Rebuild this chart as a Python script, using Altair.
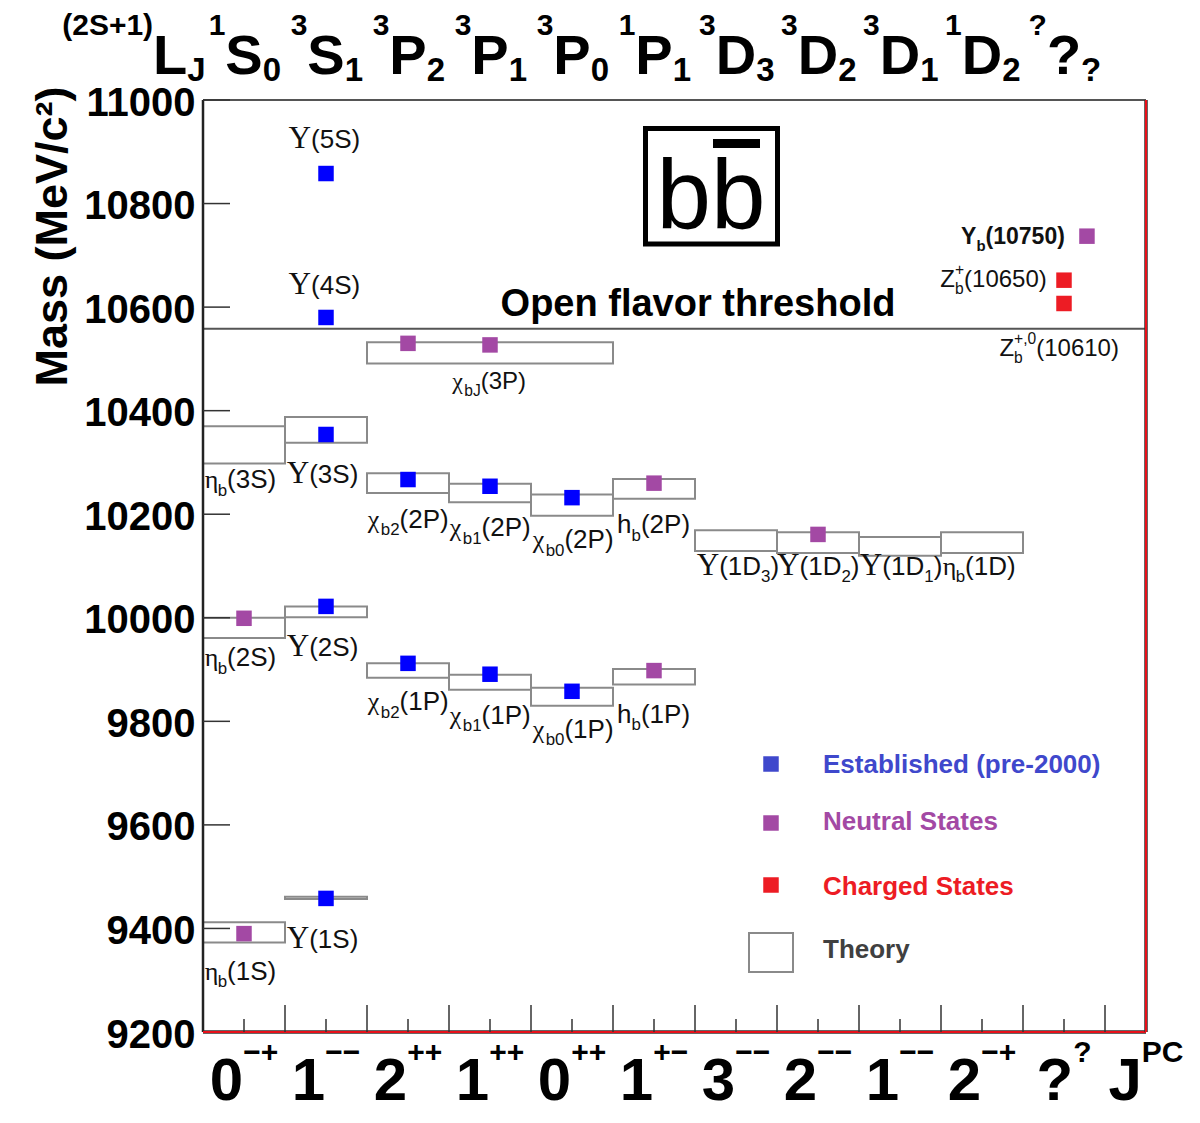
import altair as alt
import pandas as pd

# ---------------- data ----------------
# experimental states (x = JPC column centre, mass in MeV)
state_name = ["Υ(1S)", "Υ(2S)", "Υ(3S)", "Υ(4S)", "Υ(5S)",
              "ηb(1S)", "ηb(2S)",
              "χb2(1P)", "χb1(1P)", "χb0(1P)", "hb(1P)",
              "χb2(2P)", "χb1(2P)", "χb0(2P)", "hb(2P)",
              "χb2(3P)", "χb1(3P)", "Υ(1D2)",
              "Yb(10750)", "Zb(10650)", "Zb(10610)"]
state_x = [1.5, 1.5, 1.5, 1.5, 1.5,
           0.5, 0.5,
           2.5, 3.5, 4.5, 5.5,
           2.5, 3.5, 4.5, 5.5,
           2.5, 3.5, 7.5,
           10.78, 10.5, 10.5]
state_mass = [9458, 10022, 10354, 10580, 10858,
              9390, 9999,
              9912, 9891, 9858, 9898,
              10267, 10254, 10232, 10260,
              10530, 10527, 10161,
              10737, 10652, 10607]
state_kind = (["established"] * 5 + ["neutral"] * 2 + ["established"] * 3 + ["neutral"]
              + ["established"] * 3 + ["neutral"] + ["neutral"] * 3 + ["neutral"] + ["charged"] * 2)

# theory predictions (boxes)
theory_name = ["ηb(1S)", "Υ(1S)", "ηb(2S)", "Υ(2S)", "ηb(3S)", "Υ(3S)", "χbJ(3P)",
               "χb2(1P)", "χb1(1P)", "χb0(1P)", "hb(1P)",
               "χb2(2P)", "χb1(2P)", "χb0(2P)", "hb(2P)",
               "Υ(1D3)", "Υ(1D2)", "Υ(1D1)", "ηb(1D)"]
theory_x0 = [0, 1, 0, 1, 0, 1, 2, 2, 3, 4, 5, 2, 3, 4, 5, 6, 7, 8, 9]
theory_x1 = [1, 2, 1, 2, 1, 2, 5, 3, 4, 5, 6, 3, 4, 5, 6, 7, 8, 9, 10]
theory_lo = [9373, 9457, 9961, 10001, 10298, 10338, 10491,
             9884, 9861, 9830, 9871, 10241, 10223, 10197, 10230,
             10129, 10125, 10120, 10125]
theory_hi = [9412, 9461, 10000, 10022, 10370, 10388, 10532,
             9912, 9890, 9865, 9901, 10279, 10259, 10238, 10268,
             10169, 10165, 10156, 10165]

threshold_mass = [10558]

# particle labels (markup: _{..} subscript, ^{..} superscript)
label_text = ["Υ(5S)", "Υ(4S)", "Υ(3S)", "Υ(2S)", "Υ(1S)",
              "η_{b}(3S)", "η_{b}(2S)", "η_{b}(1S)",
              "χ_{b2}(2P)", "χ_{b1}(2P)", "χ_{b0}(2P)", "h_{b}(2P)",
              "χ_{b2}(1P)", "χ_{b1}(1P)", "χ_{b0}(1P)", "h_{b}(1P)",
              "χ_{bJ}(3P)",
              "Υ(1D_{3})", "Υ(1D_{2})", "Υ(1D_{1})", "η_{b}(1D)",
              "Y_{b}(10750)", "Z^{+}_{b}(10650)", "Z^{+,0}_{b}(10610)"]
label_x = [1.48, 1.48, 1.02, 1.02, 1.02,
           0.02, 0.02, 0.02,
           2.01, 3.01, 4.02, 5.05,
           2.01, 3.01, 4.02, 5.05,
           3.49,
           6.02, 7.0, 8.01, 9.02,
           10.51, 10.29, 11.17]
label_mass = [10908, 10625, 10261, 9926, 9363,
              10250, 9906, 9301,
              10174, 10157, 10134, 10163,
              9821, 9795, 9768, 9797,
              10441,
              10083, 10083, 10083, 10083,
              10721, 10638, 10506]
label_align = (["center", "center"] + ["left"] * 14 + ["center"] + ["left"] * 4
               + ["right", "right", "right"])
label_size = [26] * 16 + [24] + [26] * 4 + [23, 24, 24]
label_bold = [False] * 21 + [True, False, False]

# header row  (2S+1)L_J
header_x = [-0.4, 0.5, 1.5, 2.5, 3.5, 4.5, 5.5, 6.5, 7.5, 8.5, 9.5, 10.5]
header_sup = ["(2S+1)", "1", "3", "3", "3", "3", "1", "3", "3", "3", "1", "?"]
header_main = ["L", "S", "S", "P", "P", "P", "P", "D", "D", "D", "D", "?"]
header_sub = ["J", "0", "1", "2", "1", "0", "1", "3", "2", "1", "2", "?"]

# footer row J^PC
footer_x = [0.5, 1.5, 2.5, 3.5, 4.5, 5.5, 6.5, 7.5, 8.5, 9.5, 10.5, 11.5]
footer_main = ["0", "1", "2", "1", "0", "1", "3", "2", "1", "2", "?", "J"]
footer_sup = ["−+", "−−", "++", "++", "++", "+−", "−−", "−−", "−−", "−+", "?", "PC"]

y_ticks = [9200, 9400, 9600, 9800, 10000, 10200, 10400, 10600, 10800, 11000]

legend_label = ["Established (pre-2000)", "Neutral States", "Charged States", "Theory"]

# ---------------- styling / layout ----------------
BLUE, PURPLE, RED = "#0000ff", "#a349a4", "#ed1c24"
LEG_BLUE = "#3f48cc"
BOX_GRAY = "#8a8a8a"

W, H = 943, 932
XMIN, XMAX = 0.0, 11.5
YMIN, YMAX = 9200, 11000
XU = (XMAX - XMIN) / W
YU = (YMAX - YMIN) / H


def P(px, py):
    """plot-relative pixel -> data coordinates"""
    return XMIN + px * XU, YMAX - py * YU


W_REG = {" ": .278, "(": .333, ")": .333, "+": .584, ",": .278, "-": .333, "/": .278, "?": .556,
         "C": .722, "D": .722, "J": .5, "L": .556, "P": .667, "S": .667, "Y": .667, "Z": .611,
         "b": .556, "h": .556, "−": .584}
for d in "0123456789":
    W_REG[d] = .556
W_BOLD = {" ": .278, "(": .333, ")": .333, "+": .584, ",": .278, "-": .333, "/": .278, "?": .611,
          "C": .722, "D": .722, "E": .667, "J": .556, "L": .611, "N": .722, "O": .778, "P": .667,
          "S": .667, "T": .611, "Y": .667, "Z": .611, "a": .556, "b": .611, "c": .556, "d": .611,
          "e": .556, "f": .333, "g": .611, "h": .611, "i": .278, "l": .278, "n": .611, "o": .611,
          "p": .611, "r": .389, "s": .556, "t": .333, "u": .611, "v": .556, "y": .556, "−": .584}
for d in "0123456789":
    W_BOLD[d] = .556
W_SERIF = {"Υ": .722, "η": .5, "χ": .5}


def text_w(s, fam, size):
    tbl = W_BOLD if fam == "sansb" else (W_SERIF if fam == "serif" else W_REG)
    return sum(tbl.get(c, .6) for c in s) * size


text_rows = []


def put(x, y, dx, dy, t, fam, size, color="#111111"):
    text_rows.append({"x": x + dx * XU, "y": y - dy * YU, "t": t, "fam": fam,
                      "size": size, "color": color})


GREEK = "Υηχ"


def parse(m):
    segs, i = [], 0
    while i < len(m):
        c = m[i]
        if c in "_^" and i + 1 < len(m) and m[i + 1] == "{":
            j = m.index("}", i)
            segs.append((m[i + 2:j], "sub" if c == "_" else "sup"))
            i = j + 1
        elif c in GREEK:
            segs.append((c, "greek"))
            i += 1
        else:
            if segs and segs[-1][1] == "main":
                segs[-1] = (segs[-1][0] + c, "main")
            else:
                segs.append((c, "main"))
            i += 1
    return segs


def seg_style(kind, txt, s, bold):
    fam = "sansb" if bold else "sans"
    if kind == "greek":
        return "serif", s * (1.2 if txt == "Υ" else 1.0), 0
    if kind == "sub":
        return fam, s * 0.65, s * 0.28
    if kind == "sup":
        return fam, s * 0.65, -s * 0.5
    return fam, s, 0


def draw_label(markup, x, y, align, s, bold, color="#111111"):
    segs = parse(markup)
    placed, cur, k = [], 0.0, 0
    while k < len(segs):
        txt, kind = segs[k]
        fam, size, dy = seg_style(kind, txt, s, bold)
        w = text_w(txt, fam, size)
        if kind == "sup" and k + 1 < len(segs) and segs[k + 1][1] == "sub":
            t2, k2 = segs[k + 1]
            fam2, size2, dy2 = seg_style(k2, t2, s, bold)
            w2 = text_w(t2, fam2, size2)
            placed += [(cur, dy, txt, fam, size), (cur, dy2, t2, fam2, size2)]
            cur += max(w, w2)
            k += 2
            continue
        placed.append((cur, dy, txt, fam, size))
        cur += w
        k += 1
    off = {"left": 0.0, "center": -cur / 2, "right": -cur}[align]
    for dx, dy, t, fam, size in placed:
        put(x, y, dx + off, dy, t, fam, size, color)


# particle labels
for t, x, y, a, s, b in zip(label_text, label_x, label_mass, label_align, label_size, label_bold):
    draw_label(t, x, y, a, s, b)

# header row
hdr_y = YMAX + 26 * YU
for xc, sup, main, sub in zip(header_x, header_sup, header_main, header_sub):
    wm = text_w(main, "sansb", 56)
    ws = text_w(sup, "sansb", 30)
    put(xc, hdr_y, -wm / 2, 0, main, "sansb", 56, "#000000")
    put(xc, hdr_y, -wm / 2 - ws, -39, sup, "sansb", 30, "#000000")
    put(xc, hdr_y, wm / 2, 7, sub, "sansb", 33, "#000000")

# footer row
ftr_y = YMIN - 68 * YU
for xc, main, sup in zip(footer_x, footer_main, footer_sup):
    wm = text_w(main, "sansb", 60)
    ws = text_w(sup, "sansb", 30)
    tot = wm + ws
    put(xc, ftr_y, -tot / 2, 0, main, "sansb", 60, "#000000")
    put(xc, ftr_y, -tot / 2 + wm, -38, sup, "sansb", 30, "#000000")

# annotations
draw_label("Open flavor threshold", *P(495, 216), "center", 38, True, "#000000")
draw_label("bb", *P(508, 128), "center", 98, False, "#000000")

# legend texts
leg_colors = [LEG_BLUE, PURPLE, RED, "#404040"]
leg_base = [673, 730, 795, 858]
for lab, col, py in zip(legend_label, leg_colors, leg_base):
    draw_label(lab, *P(620, py), "left", 26, True, col)

text_df = pd.DataFrame(text_rows)

# ---------------- chart ----------------
xs = alt.Scale(domain=[XMIN, XMAX], nice=False, zero=False)
ys = alt.Scale(domain=[YMIN, YMAX], nice=False, zero=False)
yaxis = alt.Axis(values=y_ticks, format="d", ticks=False, domain=False, grid=False,
                 labelFont="Liberation Sans", labelFontWeight="bold", labelFontSize=40,
                 labelColor="#000000", labelPadding=8, labelFlush=False, labelOverlap=False,
                 labelOffset=3,
                 title="Mass (MeV/c²)", titleFont="Liberation Sans", titleFontWeight="bold",
                 titleFontSize=45, titleColor="#000000", titleAngle=270, titleX=-151,
                 titleY=136, titleAlign="center", titleBaseline="middle")


def X(f):
    return alt.X(f, type="quantitative", scale=xs, axis=None)


def Y(f):
    return alt.Y(f, type="quantitative", scale=ys, axis=yaxis)


layers = []

# theory boxes
box_df = pd.DataFrame({"name": theory_name, "x0": theory_x0, "x1": theory_x1,
                       "lo": theory_lo, "hi": theory_hi})
layers.append(alt.Chart(box_df).mark_rect(fillOpacity=0, stroke=BOX_GRAY, strokeWidth=2).encode(
    x=X("x0"), x2="x1", y=Y("lo"), y2="hi"))

# threshold line
thr_df = pd.DataFrame({"x": [XMIN], "x2": [XMAX], "y": threshold_mass})
layers.append(alt.Chart(thr_df).mark_rule(color="#555555", strokeWidth=2).encode(
    x=X("x"), x2="x2", y=Y("y")))

# frame
fr_top = pd.DataFrame({"x": [XMIN], "x2": [XMAX], "y": [YMAX]})
fr_bot = pd.DataFrame({"x": [XMIN], "x2": [XMAX], "y": [YMIN]})
fr_left = pd.DataFrame({"x": [XMIN], "y": [YMIN], "y2": [YMAX]})
fr_right = pd.DataFrame({"x": [XMAX], "y": [YMIN], "y2": [YMAX]})
layers.append(alt.Chart(fr_top).mark_rule(color="#555555", strokeWidth=2).encode(
    x=X("x"), x2="x2", y=Y("y")))
layers.append(alt.Chart(fr_left).mark_rule(color="#222222", strokeWidth=2.5).encode(
    x=X("x"), y=Y("y"), y2="y2"))
layers.append(alt.Chart(fr_bot).mark_rule(color="#333333", strokeWidth=3.5).encode(
    x=X("x"), x2="x2", y=Y("y")))
layers.append(alt.Chart(fr_bot).mark_rule(color="#e8101a", strokeWidth=2).encode(
    x=X("x"), x2="x2", y=Y("y")))
layers.append(alt.Chart(fr_right).mark_rule(color="#333333", strokeWidth=3.5).encode(
    x=X("x"), y=Y("y"), y2="y2"))
layers.append(alt.Chart(fr_right).mark_rule(color="#e8101a", strokeWidth=2).encode(
    x=X("x"), y=Y("y"), y2="y2"))

# ticks
maj_df = pd.DataFrame({"x": [float(i) for i in range(1, 12)]})
min_df = pd.DataFrame({"x": [i + 0.5 for i in range(0, 11)]})
layers.append(alt.Chart(maj_df).mark_rule(color="#333333", strokeWidth=1.5).encode(
    x=X("x"), y=alt.value(H), y2=alt.value(H - 27)))
layers.append(alt.Chart(min_df).mark_rule(color="#333333", strokeWidth=1.5).encode(
    x=X("x"), y=alt.value(H), y2=alt.value(H - 13)))
ytick_df = pd.DataFrame({"y": y_ticks[1:]})
layers.append(alt.Chart(ytick_df).mark_rule(color="#333333", strokeWidth=1.5).encode(
    y=Y("y"), x=alt.value(0), x2=alt.value(27)))

# experimental points
pt_df = pd.DataFrame({"name": state_name, "x": state_x, "m": state_mass, "kind": state_kind})
layers.append(alt.Chart(pt_df).mark_square(size=240, opacity=1).encode(
    x=X("x"), y=Y("m"),
    color=alt.Color("kind:N", scale=alt.Scale(domain=["established", "neutral", "charged"],
                                              range=[BLUE, PURPLE, RED]), legend=None)))

# logo frame + bar
one = pd.DataFrame({"a": [0]})
layers.append(alt.Chart(one).mark_rect(fillOpacity=0, stroke="#000000", strokeWidth=5).encode(
    x=alt.value(442.5), x2=alt.value(574.5), y=alt.value(28.5), y2=alt.value(144)))
layers.append(alt.Chart(one).mark_rect(color="#000000").encode(
    x=alt.value(510), x2=alt.value(557), y=alt.value(39), y2=alt.value(48)))

# legend symbols
leg_df = pd.DataFrame({"px": [568, 568, 568], "py": [664, 723, 785],
                       "c": [LEG_BLUE, PURPLE, RED]})
layers.append(alt.Chart(leg_df).mark_square(size=240, opacity=1).encode(
    x=alt.X("px:Q", scale=None), y=alt.Y("py:Q", scale=None),
    color=alt.Color("c:N", scale=None)))
layers.append(alt.Chart(one).mark_rect(fillOpacity=0, stroke=BOX_GRAY, strokeWidth=2).encode(
    x=alt.value(546), x2=alt.value(590), y=alt.value(833), y2=alt.value(872)))

# texts
FONT = {"sans": ("Liberation Sans", "normal"), "sansb": ("Liberation Sans", "bold"),
        "serif": ("Liberation Serif", "normal")}
for fam, (font, weight) in FONT.items():
    sub = text_df[text_df["fam"] == fam]
    layers.append(alt.Chart(sub).mark_text(align="left", baseline="alphabetic", font=font,
                                           fontWeight=weight).encode(
        x=X("x"), y=Y("y"), text="t:N",
        size=alt.Size("size:Q", scale=None),
        color=alt.Color("color:N", scale=None)))

chart = alt.layer(*layers).properties(
    width=W, height=H,
    autosize=alt.AutoSizeParams(type="none"),
    padding={"left": 195, "top": 92, "right": 46, "bottom": 83},
    background="white",
).configure_view(stroke=None)

chart.save("out.html", embed_options={"renderer": "svg", "actions": False})
